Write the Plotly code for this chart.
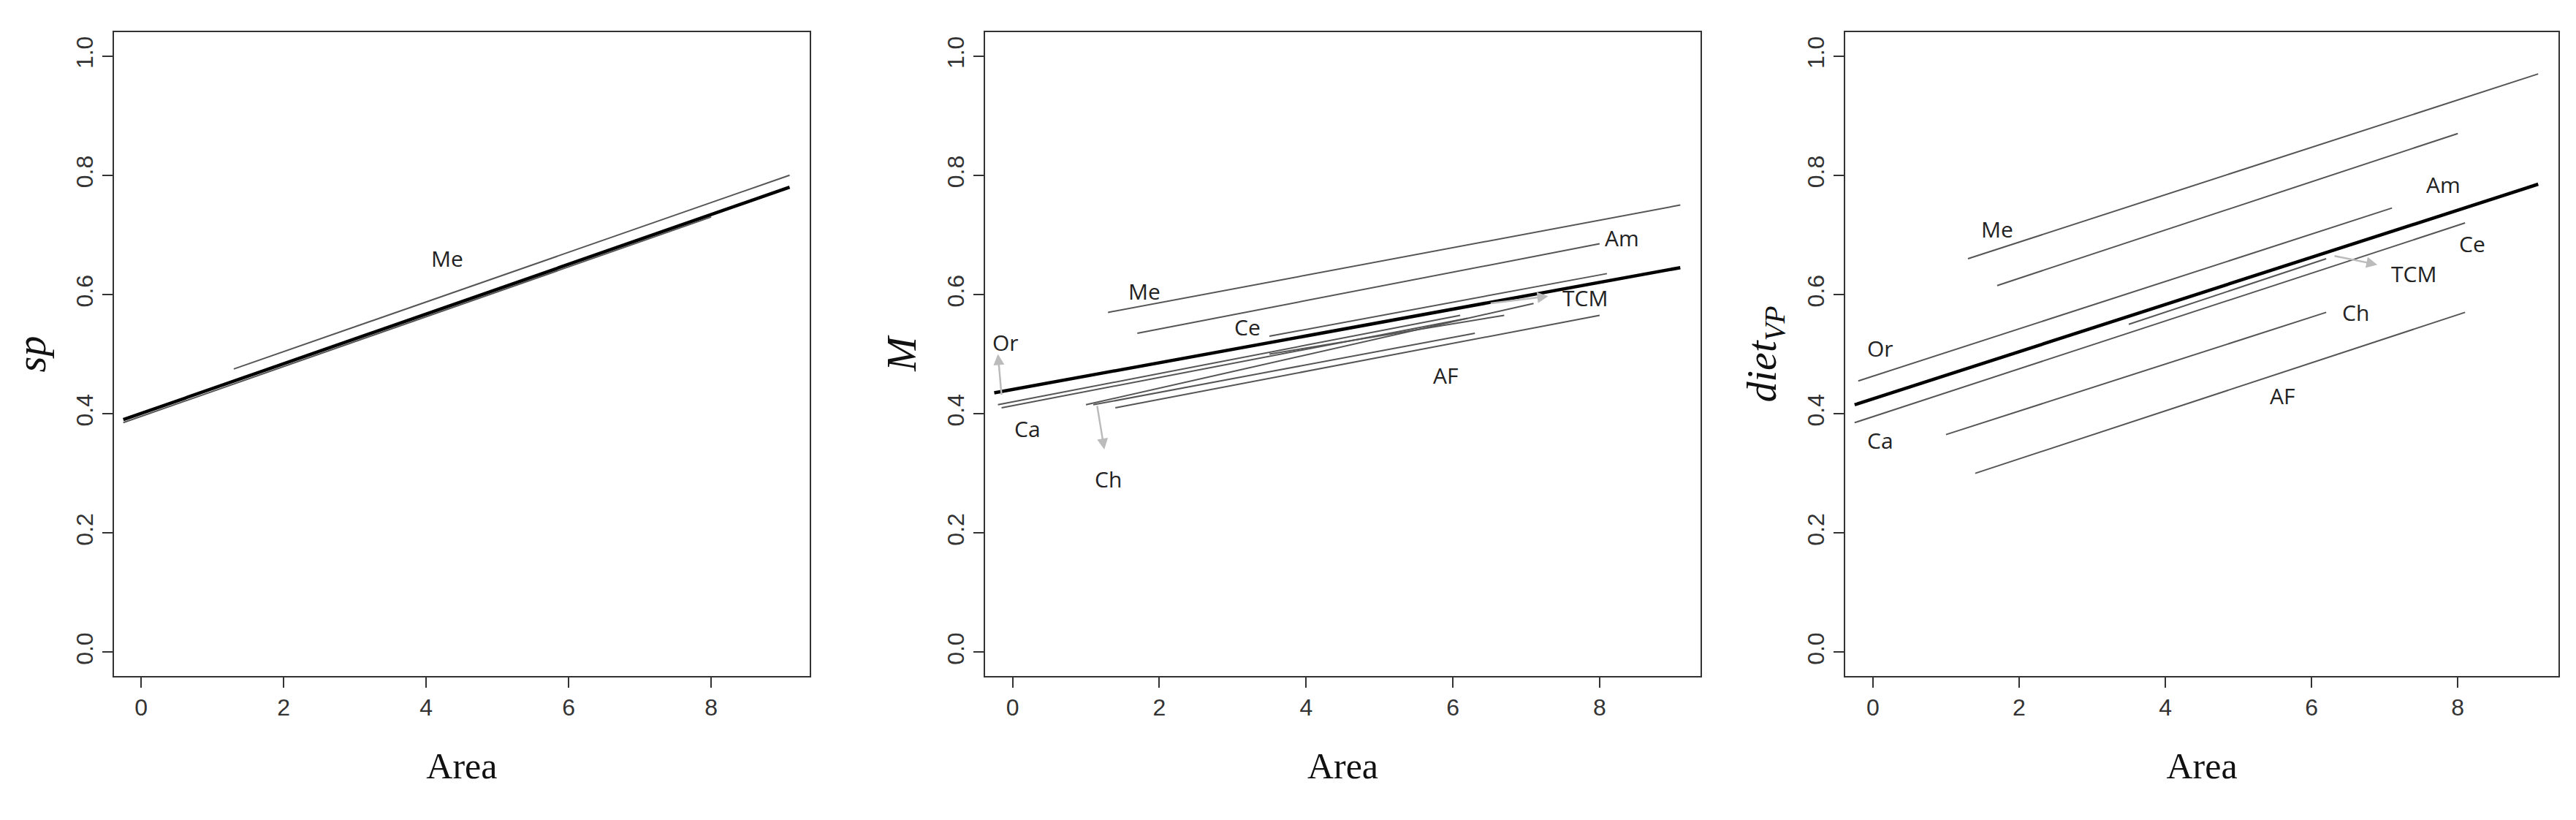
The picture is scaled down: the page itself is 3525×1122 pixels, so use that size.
import plotly.graph_objects as go

# Fitted lines per panel: (x0, y0, x1, y1)
SP_MEAN = (-0.25, 0.39, 9.1, 0.78)
SP_LINES = {"Me": (1.3, 0.475, 9.1, 0.80), "Ca": (-0.25, 0.385, 8.0, 0.73)}
SP_LABELS = {"Me": (4.3, 0.66)}

M_MEAN = (-0.25, 0.435, 9.1, 0.645)
M_LINES = {
    "Me": (1.3, 0.57, 9.1, 0.75),
    "Am": (1.7, 0.535, 8.0, 0.685),
    "Ce": (3.5, 0.53, 8.1, 0.635),
    "Ca": (-0.2, 0.415, 6.1, 0.565),
    "Ca2": (-0.15, 0.41, 6.2, 0.56),
    "Ch": (1.0, 0.415, 7.1, 0.585),
    "AF": (1.4, 0.41, 8.0, 0.565),
    "AF2": (1.1, 0.415, 6.3, 0.535),
    "TCM": (3.5, 0.50, 6.7, 0.565),
}
M_LABELS = {"Or": (-0.1, 0.52), "Ca": (0.2, 0.375), "Ch": (1.3, 0.29), "Me": (1.8, 0.605),
            "Ce": (3.2, 0.545), "AF": (5.9, 0.465), "TCM": (7.8, 0.595), "Am": (8.3, 0.695)}
M_ARROWS = [(-0.15, 0.43, -0.2, 0.50), (1.15, 0.415, 1.25, 0.34), (6.5, 0.585, 7.3, 0.597)]

D_MEAN = (-0.25, 0.415, 9.1, 0.785)
D_LINES = {
    "Me": (1.3, 0.66, 9.1, 0.97),
    "Am": (1.7, 0.615, 8.0, 0.87),
    "Or": (-0.2, 0.455, 7.1, 0.745),
    "Ca": (-0.25, 0.385, 8.1, 0.72),
    "TCM": (3.5, 0.55, 6.2, 0.66),
    "Ch": (1.0, 0.365, 6.2, 0.57),
    "AF": (1.4, 0.30, 8.1, 0.57),
}
D_LABELS = {"Me": (1.7, 0.71), "Or": (0.1, 0.51), "Ca": (0.1, 0.355), "Ch": (6.6, 0.57),
            "AF": (5.6, 0.43), "TCM": (7.4, 0.635), "Ce": (8.2, 0.685), "Am": (7.8, 0.785)}
D_ARROWS = [(6.3, 0.665, 6.9, 0.65)]

X_TICKS = [0, 2, 4, 6, 8]
Y_TICKS = [0.0, 0.2, 0.4, 0.6, 0.8, 1.0]

PANELS = [
    ("sp", SP_MEAN, SP_LINES, SP_LABELS, [], [0.042, 0.312]),
    ("M", M_MEAN, M_LINES, M_LABELS, M_ARROWS, [0.380, 0.658]),
    ("diet<sub>VP</sub>", D_MEAN, D_LINES, D_LABELS, D_ARROWS, [0.714, 0.991]),
]

fig = go.Figure()
for i, (ytitle, mean, lines, labels, arrows, dom) in enumerate(PANELS):
    n = "" if i == 0 else str(i + 1)
    xa, ya = "x" + n, "y" + n
    for name, (x0, y0, x1, y1) in lines.items():
        fig.add_trace(go.Scatter(x=[x0, x1], y=[y0, y1], mode="lines", xaxis=xa, yaxis=ya,
                                 line=dict(color="#555555", width=2), showlegend=False))
    fig.add_trace(go.Scatter(x=[mean[0], mean[2]], y=[mean[1], mean[3]], mode="lines",
                             xaxis=xa, yaxis=ya, line=dict(color="black", width=4.5),
                             showlegend=False))
    for name, (lx, ly) in labels.items():
        fig.add_annotation(x=lx, y=ly, xref=xa, yref=ya, text=name, showarrow=False,
                           font=dict(family="Open Sans", size=30, color="#222"))
    for (x0, y0, x1, y1) in arrows:
        fig.add_annotation(x=x1, y=y1, ax=x0, ay=y0, xref=xa, yref=ya, axref=xa, ayref=ya,
                           text="", showarrow=True, arrowhead=2, arrowsize=1.2,
                           arrowwidth=2.5, arrowcolor="#bbbbbb")
    axis_common = dict(showline=True, linecolor="#333", linewidth=2, mirror=True,
                       ticks="outside", ticklen=14, tickwidth=2, tickcolor="#333",
                       showgrid=False, zeroline=False,
                       tickfont=dict(family="Liberation Sans", size=32, color="#333"))
    fig.update_layout(**{
        "xaxis" + n: dict(axis_common, domain=dom, range=[-0.38, 9.38], tickvals=X_TICKS,
                          anchor=ya, title=dict(text="Area", standoff=45,
                                                font=dict(family="Liberation Serif", size=50,
                                                          color="#111"))),
        "yaxis" + n: dict(axis_common, domain=[0, 1], range=[-0.04, 1.04], tickvals=Y_TICKS,
                          tickformat=".1f", tickangle=-90, anchor=xa,
                          title=dict(text="<i>" + ytitle + "</i>", standoff=18,
                                     font=dict(family="Liberation Serif", size=56,
                                               color="#111"))),
    })

fig.update_layout(width=3525, height=1122, plot_bgcolor="white", paper_bgcolor="white",
                  margin=dict(l=0, r=0, t=36, b=205))
fig.write_html("out.html")
